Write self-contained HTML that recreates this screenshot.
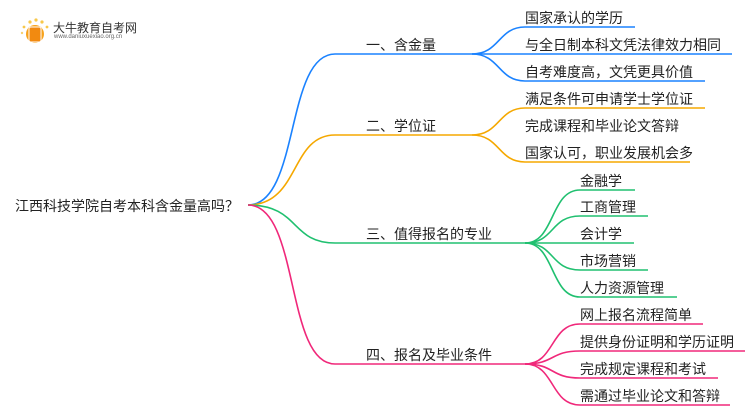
<!DOCTYPE html>
<html><head><meta charset="utf-8"><style>
body{margin:0;width:750px;height:410px;background:#fff;overflow:hidden;position:relative;font-family:"Liberation Sans","Noto Sans CJK SC",sans-serif;}
.t{position:absolute;font-size:14px;color:#222;white-space:nowrap;line-height:18px;}
</style></head><body>
<svg width="750" height="410" style="position:absolute;left:0;top:0" fill="none" stroke-width="1.6">
<g stroke="#1a82ff">
<path d="M248,205 C300,205 285,54 335,54 L472,54"/>
<path d="M472,54 C500,54 498,27 525,27 L635,27"/>
<path d="M472,54 L732,54"/>
<path d="M472,54 C500,54 498,81 525,81 L705,81"/>
</g>
<g stroke="#f5a800">
<path d="M248,205 C300,205 290,135 335,135 L472,135"/>
<path d="M472,135 C500,135 498,108 525,108 L705,108"/>
<path d="M472,135 C500,135 498,162 525,162 L690,162"/>
</g>
<g stroke="#20c070">
<path d="M248,205 C300,205 290,243 335,243 L525,243"/>
<path d="M525,243 C555,243 550,190 580,190 L635,190"/>
<path d="M525,243 C555,243 550,216 580,216 L648,216"/>
<path d="M525,243 L634,243"/>
<path d="M525,243 C555,243 550,270 580,270 L648,270"/>
<path d="M525,243 C555,243 550,297 580,297 L677,297"/>
</g>
<g stroke="#f0287a">
<path d="M248,205 C300,205 285,364 335,364 L525,364"/>
<path d="M525,364 C555,364 550,324 580,324 L703,324"/>
<path d="M525,364 C555,364 550,351 580,351 L745,351"/>
<path d="M525,364 C555,364 550,378 580,378 L718,378"/>
<path d="M525,364 C555,364 550,405 580,405 L730,405"/>
</g>
<g>
<circle cx="35" cy="34" r="9" fill="#f7a21b"/>
<rect x="29" y="27" width="12" height="15" rx="2" fill="#f28a10" stroke="#fff" stroke-width="1"/>
<circle cx="30" cy="22" r="1.6" fill="#f8c84a"/><circle cx="36" cy="20" r="1.6" fill="#f8c84a"/><circle cx="42" cy="22" r="1.6" fill="#f8c84a"/><circle cx="24" cy="27" r="1.4" fill="#f8c84a"/><circle cx="47" cy="27" r="1.4" fill="#f8c84a"/><circle cx="22" cy="33" r="1.2" fill="#f8d070"/>
</g>
</svg>
<div class="t" style="left:53px;top:19px;font-size:12px;color:#333">大牛教育自考网</div>
<div class="t" style="left:54px;top:33px;font-size:6px;line-height:8px;color:#666">www.daniuxuexiao.org.cn</div>
<div class="t" style="left:15px;top:197px">江西科技学院自考本科含金量高吗？</div>
<div class="t" style="left:366px;top:36px">一、含金量</div>
<div class="t" style="left:366px;top:117px">二、学位证</div>
<div class="t" style="left:366px;top:225px">三、值得报名的专业</div>
<div class="t" style="left:366px;top:346px">四、报名及毕业条件</div>
<div class="t" style="left:525px;top:9px">国家承认的学历</div>
<div class="t" style="left:525px;top:36px">与全日制本科文凭法律效力相同</div>
<div class="t" style="left:525px;top:63px">自考难度高，文凭更具价值</div>
<div class="t" style="left:525px;top:90px">满足条件可申请学士学位证</div>
<div class="t" style="left:525px;top:117px">完成课程和毕业论文答辩</div>
<div class="t" style="left:525px;top:144px">国家认可，职业发展机会多</div>
<div class="t" style="left:580px;top:172px">金融学</div>
<div class="t" style="left:580px;top:198px">工商管理</div>
<div class="t" style="left:580px;top:225px">会计学</div>
<div class="t" style="left:580px;top:252px">市场营销</div>
<div class="t" style="left:580px;top:279px">人力资源管理</div>
<div class="t" style="left:580px;top:306px">网上报名流程简单</div>
<div class="t" style="left:580px;top:333px">提供身份证明和学历证明</div>
<div class="t" style="left:580px;top:360px">完成规定课程和考试</div>
<div class="t" style="left:580px;top:387px">需通过毕业论文和答辩</div>
</body></html>
